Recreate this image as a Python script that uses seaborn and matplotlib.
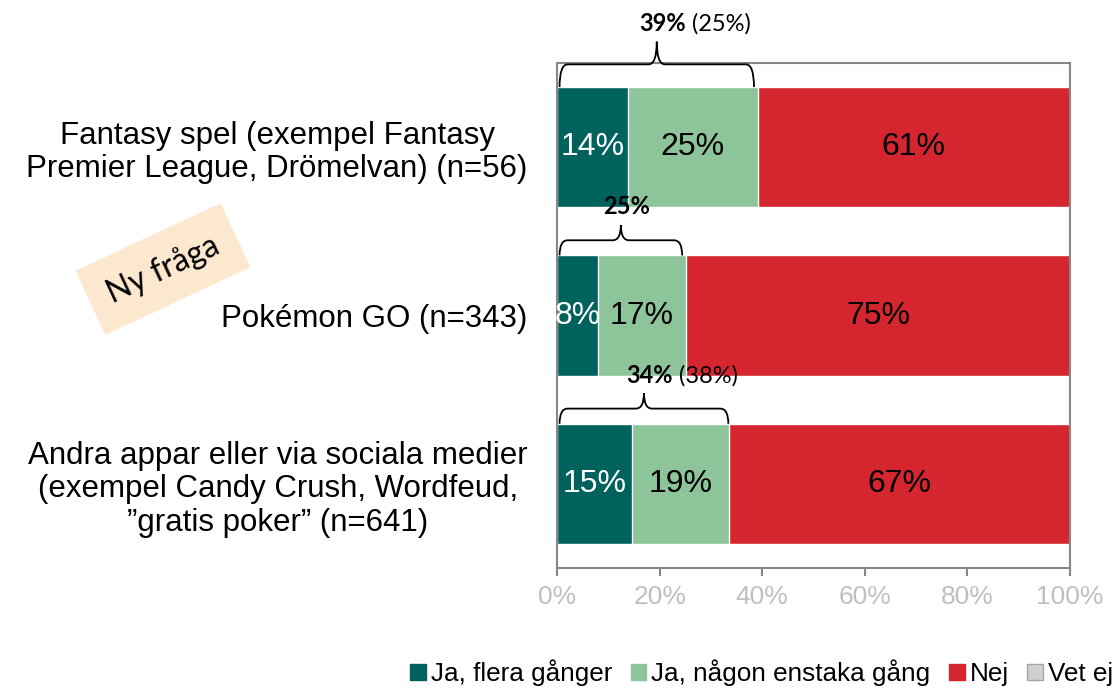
import matplotlib
matplotlib.use("Agg")
import matplotlib.pyplot as plt
import numpy as np
import pandas as pd
import seaborn as sns
from matplotlib.path import Path
from matplotlib.patches import PathPatch, Patch

sns.set_style("white")
plt.rcParams['font.family'] = ['Liberation Sans', 'DejaVu Sans']
plt.rcParams['text.color'] = 'black'
plt.rcParams['ytick.color'] = 'black'

# data
categories = [
    "Fantasy spel (exempel Fantasy\nPremier League, Drömelvan) (n=56)",
    "Pokémon GO (n=343)",
    "Andra appar eller via sociala medier\n(exempel Candy Crush, Wordfeud,\n\u201dgratis poker\u201d (n=641)",
]
series = ["Ja, flera gånger", "Ja, någon enstaka gång", "Nej", "Vet ej"]
ja_flera = [13.8, 8.0, 14.6]
ja_nagon = [25.3, 17.1, 18.9]
nej = [60.9, 74.9, 66.5]
vet_ej = [0.0, 0.0, 0.0]
ja_total = [39, 25, 34]
ja_total_prev = ["25%", None, "38%"]

colors = ["#00625D", "#8DC49A", "#D5262F", "#D0D0D0"]
label_colors = ["white", "black", "black", "black"]
grey = "#878787"

df = pd.DataFrame({"kategori": categories, series[0]: ja_flera,
                   series[1]: ja_nagon, series[2]: nej, series[3]: vet_ej})
cum = df.copy()
cum[series] = df[series].cumsum(axis=1)

fig, ax = plt.subplots(figsize=(11.2, 6.88), dpi=100)
fig.subplots_adjust(left=0.4973, right=0.9554, bottom=0.1744, top=0.9084)

# stacked bars: draw cumulative totals back to front
for s, c in reversed(list(zip(series, colors))):
    sns.barplot(data=cum, x=s, y="kategori", orient="h", color=c,
                width=0.714, saturation=1, ax=ax)

# segment labels
for i in range(len(categories)):
    for s, lc in zip(series, label_colors):
        v = df.loc[i, s]
        if v <= 0:
            continue
        xc = cum.loc[i, s] - v / 2
        ax.text(xc, i, f"{int(v + 0.5)}%", ha="center", va="center",
                color=lc, fontsize=23)

ax.set_xlim(0, 100)
ax.set_ylim(2.5, -0.5)
ax.set_xlabel("")
ax.set_ylabel("")
ax.set_xticks(np.arange(0, 101, 20))
ax.set_xticklabels([f"{v}%" for v in range(0, 101, 20)], color="#BFBFBF", fontsize=19)
ax.set_yticks(range(len(categories)))
ax.set_yticklabels(categories, fontsize=22.5, color="black")
for t in ax.get_yticklabels():
    t.set_multialignment("center")
    t.set_linespacing(1.15)
ax.set_yticks([-0.5, 0.5, 1.5, 2.5], minor=True)
ax.tick_params(axis="y", which="major", length=0, pad=21)
ax.tick_params(axis="y", which="minor", length=7, width=1.5, color=grey, direction="out")
ax.tick_params(axis="x", which="major", length=6, width=1.5, color=grey, direction="out", pad=6)
ax.tick_params(left=True, bottom=True)
for sp in ax.spines.values():
    sp.set_visible(True)
    sp.set_color(grey)
    sp.set_linewidth(1.5)

# curly braces with the Ja totals
bar_top = 0.714 / 2
rx = 1.6
rises = [0.135, 0.09, 0.09]
for i, tot in enumerate(ja_total):
    x0, x1 = 0.5, tot - 0.6
    xm = (x0 + x1) / 2
    r = rises[i]
    ye = i - bar_top
    yh = ye - r
    yt = yh - r
    verts = [(x0, ye), (x0, yh), (x0 + rx, yh), (xm - rx, yh), (xm, yh), (xm, yt),
             (xm, yh), (xm + rx, yh), (x1 - rx, yh), (x1, yh), (x1, ye)]
    codes = [Path.MOVETO, Path.CURVE3, Path.CURVE3, Path.LINETO, Path.CURVE3, Path.CURVE3,
             Path.CURVE3, Path.CURVE3, Path.LINETO, Path.CURVE3, Path.CURVE3]
    ax.add_patch(PathPatch(Path(verts, codes), fc="none", ec="black", lw=1.3,
                           clip_on=False, zorder=5))
    bold = ax.text(xm - 3.4, yt - 0.04, f"{tot}%", ha="left", va="bottom",
                   fontsize=17, fontweight="bold", family=["Lato", "DejaVu Sans"],
                   clip_on=False, zorder=6)
    if ja_total_prev[i]:
        ax.annotate(f" ({ja_total_prev[i]})", xy=(1, 0), xycoords=bold,
                    ha="left", va="bottom", fontsize=17,
                    family=["Lato", "DejaVu Sans"], zorder=6)

# "Ny fråga" tag
fig.text(163 / 1120, 1 - 269 / 688, "Ny fråga", rotation=25, rotation_mode="anchor",
         ha="center", va="center", fontsize=23, family=["Lato", "DejaVu Sans"],
         bbox=dict(boxstyle="square,pad=0.62", fc="#FCE8CF", ec="none"))

handles = [Patch(facecolor=c, edgecolor=("#A6A6A6" if s == "Vet ej" else c))
           for s, c in zip(series, colors)]
fig.legend(handles, series, loc="center left", bbox_to_anchor=(410 / 1120, 1 - 673 / 688),
           ncol=4, frameon=False, fontsize=18.8, handlelength=0.6, handleheight=0.6,
           handletextpad=0.2, columnspacing=0.7, borderaxespad=0, borderpad=0)

fig.savefig("out.png", dpi=100)
